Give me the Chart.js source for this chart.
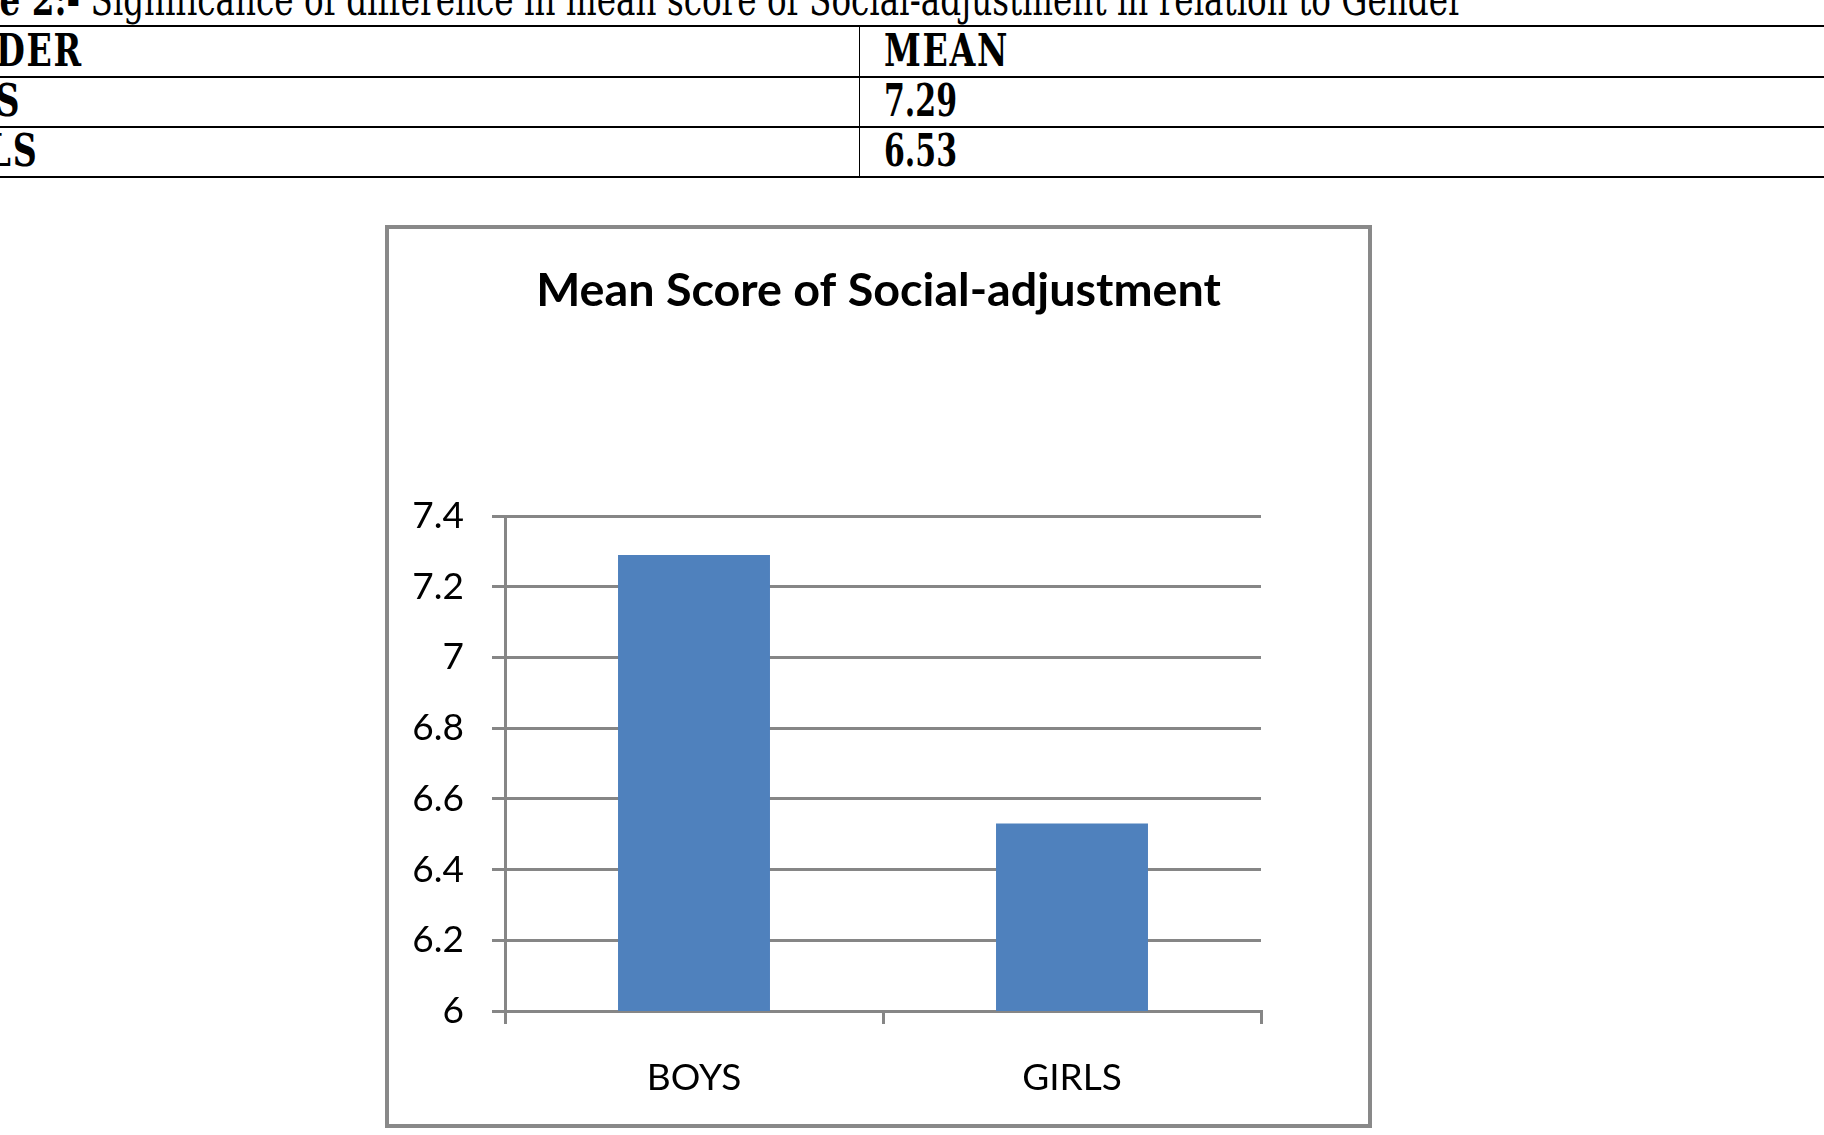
<!DOCTYPE html>
<html>
<head>
<meta charset="utf-8">
<script src="https://cdn.jsdelivr.net/npm/chart.js@4.4.1/dist/chart.umd.min.js"></script>
<style>
  html, body { margin: 0; padding: 0; background: #fff; }
  body { width: 1824px; height: 1135px; position: relative; overflow: hidden; }
  #caption { position: absolute; top: -22px; left: 0; white-space: nowrap; font-family: "DejaVu Serif", serif; font-size: 44px; line-height: 1; color: #000; transform-origin: 0 0; }
  .hline { position: absolute; left: 0; width: 1824px; height: 2px; background: #000; }
  .vline { position: absolute; width: 1px; background: #000; }
  .cell { position: absolute; white-space: nowrap; font-family: "DejaVu Serif Condensed", "DejaVu Serif", serif; font-weight: bold; font-size: 44px; line-height: 1; color: #000; transform-origin: 0 0; letter-spacing: 2px; }
  .num { letter-spacing: 0; }
  #box { position: absolute; left: 385px; top: 225px; width: 987px; height: 903px; box-sizing: border-box; border: 4px solid #898989; background: #fff; }
  #c { display: block; }
</style>
</head>
<body>
<div id="caption"><b id="pre">Tabl</b><b id="pre2">e 2:-</b><span id="rest"> Significance of difference in mean score of Social-adjustment in relation to Gender</span></div>

<div class="hline" style="top:25px"></div>
<div class="hline" style="top:76px"></div>
<div class="hline" style="top:126px"></div>
<div class="hline" style="top:176px"></div>
<div class="vline" style="left:859px; top:26px; height:151px"></div>

<div id="tbl"></div>

<div id="box"><canvas id="c" width="979" height="895"></canvas></div>

<script>
// ---- data ----
const tableHeaders = ["GENDER", "MEAN"];
const categories = ["BOYS", "GIRLS"];
const meanValues = [7.29, 6.53];
const tableValues = ["7.29", "6.53"];
const yTickLabels = ["6", "6.2", "6.4", "6.6", "6.8", "7", "7.2", "7.4"];
const chartTitle = "Mean Score of Social-adjustment";

// ---- caption fit: visible part "e 2:- ... Gender" spans 0..1464 ----
(function () {
  const cap = document.getElementById('caption');
  const pre = document.getElementById('pre').getBoundingClientRect().width;
  const total = cap.getBoundingClientRect().width;
  const vis = total - pre;
  const s = 1464 / vis;
  cap.style.transform = 'scaleX(' + s + ')';
  cap.style.left = (-pre * s) + 'px';
})();

// ---- table text ----
(function () {
  const tbl = document.getElementById('tbl');
  const baselines = [66, 116, 166];
  const leftCol = [tableHeaders[0]].concat(categories);
  const rightCol = [tableHeaders[1]].concat(tableValues);
  function mk(text, cls) {
    const d = document.createElement('div');
    d.className = 'cell' + (cls ? ' ' + cls : '');
    d.textContent = text;
    tbl.appendChild(d);
    return d;
  }
  function width(text, cls) {
    const p = mk(text, cls);
    const w = p.getBoundingClientRect().width;
    tbl.removeChild(p);
    return w;
  }
  const s = 125 / width(rightCol[0]);
  const sNum = 73 / width(rightCol[1], 'num');
  const asc = 0.846 * 44;
  // left column right ends (text clipped by page edge)
  const rightEnds = [83, 21, 38];
  for (let i = 0; i < 3; i++) {
    const a = mk(leftCol[i]);
    const w = a.getBoundingClientRect().width * s;
    a.style.left = (rightEnds[i] - w) + 'px';
    a.style.top = (baselines[i] - asc) + 'px';
    a.style.transform = 'scaleX(' + s + ')';
    const b = mk(rightCol[i], i > 0 ? 'num' : '');
    b.style.left = '884px';
    b.style.top = (baselines[i] - asc) + 'px';
    b.style.transform = 'scaleX(' + (i > 0 ? sNum : s) + ')';
  }
})();

// ---- chart ----
const GRID = '#868686';
new Chart(document.getElementById('c'), {
  type: 'bar',
  data: {
    labels: categories,
    datasets: [{
      data: meanValues,
      backgroundColor: '#4F81BD',
      borderWidth: 0,
      barPercentage: 0.402,
      categoryPercentage: 1.0
    }]
  },
  options: {
    responsive: false,
    animation: false,
    devicePixelRatio: 1,
    layout: { padding: 0 },
    plugins: {
      legend: { display: false },
      tooltip: { enabled: false },
      title: {
        display: true,
        text: chartTitle,
        color: '#000',
        font: { family: 'Lato', weight: 'bold', size: 46.7, lineHeight: 1.2 },
        padding: { top: 34, bottom: 197 }
      }
    },
    scales: {
      x: {
        offset: true,
        grid: { display: true, drawOnChartArea: false, drawTicks: true, tickLength: 13, color: GRID, lineWidth: 3, offset: true },
        border: { display: true, color: GRID, width: 3 },
        ticks: { color: '#000', font: { family: 'Lato', size: 37, lineHeight: 1.2 }, padding: 32, maxRotation: 0 },
        afterFit: (sc) => { sc.height = 113; }
      },
      y: {
        min: 6,
        max: 7.4,
        grid: { color: GRID, lineWidth: 3, drawTicks: true, tickLength: 13 },
        border: { display: true, color: GRID, width: 3 },
        ticks: {
          stepSize: 0.2,
          color: '#000',
          font: { family: 'Lato', size: 37 },
          padding: 28,
          callback: (v, i) => yTickLabels[i]
        },
        afterFit: (sc) => { sc.width = 116; }
      },
      yRight: {
        position: 'right',
        display: true,
        grid: { display: false },
        border: { display: false },
        ticks: { display: false },
        afterFit: (sc) => { sc.width = 107; }
      }
    }
  }
});
</script>
</body>
</html>
